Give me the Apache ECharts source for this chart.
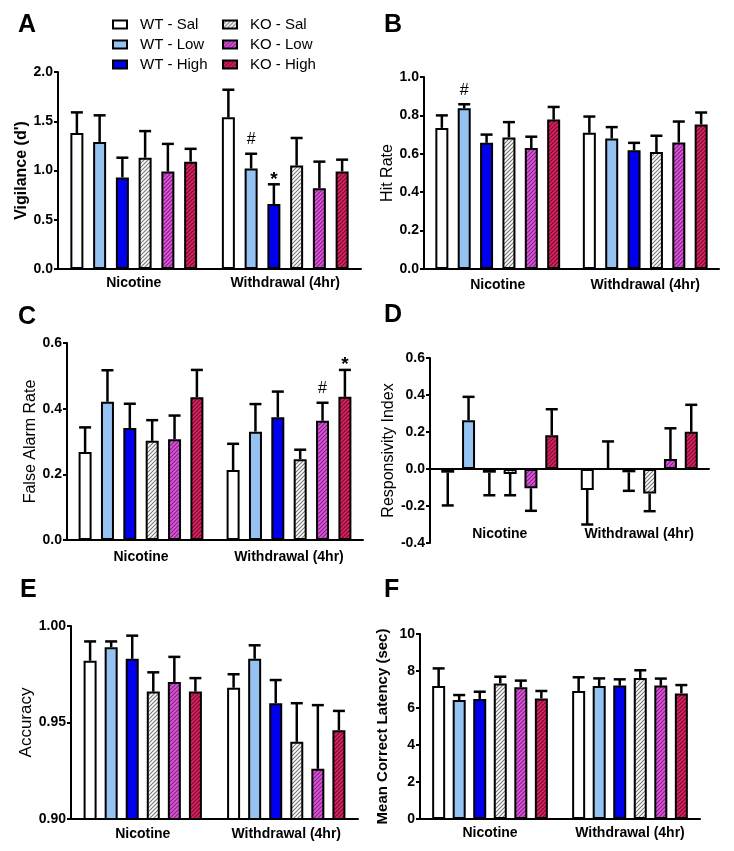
<!DOCTYPE html>
<html><head><meta charset="utf-8">
<script src="https://cdn.jsdelivr.net/npm/echarts@6/dist/echarts.min.js"></script>
<style>html,body{margin:0;padding:0;background:#fff}#c{width:734px;height:851px}</style>
</head><body><div id="c"></div>
<script>
// ---------------- DATA ----------------
const groups = ['Nicotine', 'Withdrawal (4hr)'];
const seriesNames = ['WT - Sal', 'WT - Low', 'WT - High', 'KO - Sal', 'KO - Low', 'KO - High'];

// A: Vigilance (d')
const vigilanceMean = [[1.38, 1.29, 0.93, 1.13, 0.99, 1.09], [1.54, 1.02, 0.66, 1.05, 0.82, 0.99]];
const vigilanceSem  = [[0.21, 0.27, 0.20, 0.27, 0.28, 0.13], [0.28, 0.15, 0.20, 0.28, 0.27, 0.12]];
const vigilanceMarks = [[1, 1, '#'], [1, 2, '*']];
const vigilanceTicks = [0.0, 0.5, 1.0, 1.5, 2.0];

// B: Hit Rate
const hitMean = [[0.735, 0.837, 0.657, 0.685, 0.630, 0.778], [0.709, 0.680, 0.618, 0.609, 0.659, 0.753]];
const hitSem  = [[0.065, 0.021, 0.043, 0.080, 0.059, 0.066], [0.085, 0.059, 0.039, 0.085, 0.109, 0.062]];
const hitMarks = [[0, 1, '#']];
const hitTicks = [0.0, 0.2, 0.4, 0.6, 0.8, 1.0];

// C: False Alarm Rate
const falseAlarmMean = [[0.268, 0.421, 0.341, 0.302, 0.307, 0.435], [0.213, 0.330, 0.374, 0.246, 0.363, 0.436]];
const falseAlarmSem  = [[0.075, 0.096, 0.074, 0.063, 0.072, 0.083], [0.080, 0.084, 0.078, 0.029, 0.055, 0.082]];
const falseAlarmMarks = [[1, 4, '#'], [1, 5, '*']];
const falseAlarmTicks = [0.0, 0.2, 0.4, 0.6];

// D: Responsivity Index
const responsivityMean = [[-0.020, 0.264, -0.020, -0.027, -0.104, 0.183], [-0.113, 0.000, -0.018, -0.133, 0.054, 0.201]];
const responsivitySem  = [[0.177, 0.126, 0.122, 0.115, 0.122, 0.140], [0.187, 0.149, 0.100, 0.095, 0.166, 0.146]];
const responsivityMarks = [];
const responsivityTicks = [-0.4, -0.2, 0.0, 0.2, 0.4, 0.6];

// E: Accuracy
const accuracyMean = [[0.982, 0.989, 0.983, 0.966, 0.971, 0.966], [0.968, 0.983, 0.960, 0.940, 0.926, 0.946]];
const accuracySem  = [[0.010, 0.003, 0.012, 0.010, 0.013, 0.007], [0.007, 0.007, 0.012, 0.020, 0.033, 0.010]];
const accuracyMarks = [];
const accuracyTicks = [0.90, 0.95, 1.00];

// F: Mean Correct Latency (sec)
const latencyMean = [[7.19, 6.43, 6.49, 7.33, 7.12, 6.52], [6.92, 7.19, 7.21, 7.62, 7.21, 6.79]];
const latencySem  = [[0.95, 0.27, 0.39, 0.36, 0.36, 0.40], [0.74, 0.41, 0.34, 0.42, 0.38, 0.45]];
const latencyMarks = [];
const latencyTicks = [0, 2, 4, 6, 8, 10];

// ---------------- STYLE / LAYOUT ----------------
const FONT = 'Liberation Sans, Arial, sans-serif';
function hatch(bg, fg) {
  const c = document.createElement('canvas');
  c.width = 4; c.height = 4;
  const g = c.getContext('2d');
  g.fillStyle = bg; g.fillRect(0, 0, 4, 4);
  g.strokeStyle = fg; g.lineWidth = 1.2;
  g.beginPath();
  g.moveTo(0, 4); g.lineTo(4, 0);
  g.moveTo(-1, 1); g.lineTo(1, -1);
  g.moveTo(3, 5); g.lineTo(5, 3);
  g.stroke();
  return { image: c, repeat: 'repeat' };
}
const fills = ['#ffffff', '#96c2f2', '#0000ee',
  hatch('#ffffff', '#7a7a7a'), hatch('#d85ad8', '#8e1c8e'), hatch('#d8265f', '#7c0a32')];

const BW = 13;
const panels = [
  { letter: 'A', lx: 18, ly: 13, name: "Vigilance (d')", nameSize: 16, nameBold: true, nameGap: 27,
    mean: vigilanceMean, sem: vigilanceSem, marks: vigilanceMarks, ticks: vigilanceTicks, dec: 1,
    left: 58, top: 72, width: 303, height: 197, gap: 0.75, lblMargin: 7 },
  { letter: 'B', lx: 384, ly: 13, name: 'Hit Rate', nameSize: 16, nameBold: false, nameGap: 27,
    mean: hitMean, sem: hitSem, marks: hitMarks, ticks: hitTicks, dec: 1,
    left: 424, top: 77, width: 295, height: 192, gap: 0.72, lblMargin: 9 },
  { letter: 'C', lx: 18, ly: 305, name: 'False Alarm Rate', nameSize: 16, nameBold: false, nameGap: 24,
    mean: falseAlarmMean, sem: falseAlarmSem, marks: falseAlarmMarks, ticks: falseAlarmTicks, dec: 1,
    left: 67, top: 343, width: 296, height: 197, gap: 0.72, lblMargin: 10 },
  { letter: 'D', lx: 384, ly: 303, name: 'Responsivity Index', nameSize: 16, nameBold: false, nameGap: 31,
    mean: responsivityMean, sem: responsivitySem, marks: responsivityMarks, ticks: responsivityTicks, dec: 1,
    left: 430, top: 358, width: 279, height: 185, gap: 0.6, lblMargin: 4, inside: true },
  { letter: 'E', lx: 20, ly: 578, name: 'Accuracy', nameSize: 17, nameBold: false, nameGap: 35,
    mean: accuracyMean, sem: accuracySem, marks: accuracyMarks, ticks: accuracyTicks, dec: 2,
    left: 71, top: 626, width: 287, height: 193, gap: 0.62, lblMargin: 8 },
  { letter: 'F', lx: 384, ly: 578, name: 'Mean Correct Latency (sec)', nameSize: 15, nameBold: true, nameGap: 30,
    mean: latencyMean, sem: latencySem, marks: latencyMarks, ticks: latencyTicks, dec: 0,
    left: 420, top: 634, width: 280, height: 185, gap: 0.58, lblMargin: 7 }
];

const grids = [], xAxes = [], yAxes = [], series = [], graphics = [];
panels.forEach((p, pi) => {
  grids.push({ left: p.left, top: p.top, width: p.width, height: p.height, containLabel: false });
  const xi = xAxes.length;
  xAxes.push({
    type: 'category', gridIndex: pi, data: groups,
    axisLine: { onZero: true, lineStyle: { color: '#000', width: 2 } },
    axisTick: { alignWithLabel: true, length: 4, lineStyle: { color: '#000', width: 1.5 } },
    axisLabel: { show: !p.inside, interval: 0, color: '#000', fontFamily: FONT, fontWeight: 'bold', fontSize: 14, margin: p.lblMargin },
    splitLine: { show: false }
  });
  if (p.inside) {
    xAxes.push({
      type: 'category', gridIndex: pi, data: groups, position: 'bottom', offset: -20,
      axisLine: { show: false, onZero: false }, axisTick: { show: false },
      axisLabel: { interval: 0, color: '#000', fontFamily: FONT, fontWeight: 'bold', fontSize: 14, margin: p.lblMargin }
    });
  }
  const step = p.ticks[1] - p.ticks[0];
  yAxes.push({
    type: 'value', gridIndex: pi,
    min: p.ticks[0], max: p.ticks[p.ticks.length - 1], interval: step,
    name: p.name, nameLocation: 'middle', nameGap: p.nameGap, nameRotate: 90,
    nameTextStyle: { color: '#000', fontFamily: FONT, fontSize: p.nameSize, fontWeight: p.nameBold ? 'bold' : 'normal' },
    axisLine: { show: true, lineStyle: { color: '#000', width: 2 } },
    axisTick: { show: true, length: 4, lineStyle: { color: '#000', width: 2 } },
    axisLabel: { color: '#000', fontFamily: FONT, fontWeight: 'bold', fontSize: 14, margin: 5,
      formatter: v => Number(v).toFixed(p.dec) },
    splitLine: { show: false }
  });
  seriesNames.forEach((nm, k) => {
    series.push({
      type: 'bar', name: nm, xAxisIndex: xi, yAxisIndex: pi,
      data: [p.mean[0][k], p.mean[1][k]],
      barWidth: BW, barGap: Math.round(p.gap * 100) + '%',
      itemStyle: { color: fills[k], borderColor: '#000', borderWidth: 2 },
      clip: true, silent: true, animation: false, z: 2
    });
  });
  const pitch = BW * (1 + p.gap);
  const errData = [];
  for (let g = 0; g < 2; g++) for (let k = 0; k < 6; k++) errData.push([g, p.mean[g][k], p.sem[g][k], k]);
  series.push({
    type: 'custom', xAxisIndex: xi, yAxisIndex: pi, data: errData, encode: { x: 0, y: 1 },
    silent: true, animation: false, z: 4, clip: false,
    renderItem: (params, api) => {
      const g = api.value(0), m = api.value(1), s = api.value(2), k = api.value(3);
      const dir = m < 0 ? -1 : 1;
      const p0 = api.coord([g, m]), p1 = api.coord([g, m + dir * s]);
      const x = p0[0] + (k - 2.5) * pitch;
      return { type: 'group', children: [
        { type: 'line', shape: { x1: x, y1: p0[1], x2: x, y2: p1[1] }, style: { stroke: '#000', lineWidth: 2.5 } },
        { type: 'line', shape: { x1: x - 6, y1: p1[1], x2: x + 6, y2: p1[1] }, style: { stroke: '#000', lineWidth: 2.5 } }
      ] };
    }
  });
  if (p.marks.length) {
    series.push({
      type: 'custom', xAxisIndex: xi, yAxisIndex: pi,
      data: p.marks.map(m => [m[0], p.mean[m[0]][m[1]] + p.sem[m[0]][m[1]], m[1]]), encode: { x: 0, y: 1 },
      silent: true, animation: false, z: 5, clip: false,
      renderItem: (params, api) => {
        const mk = p.marks[params.dataIndex];
        const pt = api.coord([api.value(0), api.value(1)]);
        const x = pt[0] + (api.value(2) - 2.5) * pitch;
        const star = mk[2] === '*';
        return { type: 'text', style: {
          text: mk[2], x: x, y: star ? pt[1] - 5 : pt[1] - 14,
          align: 'center', verticalAlign: 'middle', fill: '#000',
          fontFamily: FONT, fontSize: star ? 19 : 16, fontWeight: star ? 'bold' : 'normal'
        } };
      }
    });
  }
  graphics.push({ type: 'text', left: p.lx, top: p.ly,
    style: { text: p.letter, fill: '#000', font: 'bold 25px ' + FONT } });
});

const legendCommon = {
  orient: 'vertical', icon: 'rect', itemWidth: 14, itemHeight: 8, itemGap: 5,
  selectedMode: false,
  itemStyle: { borderColor: '#000', borderWidth: 2 },
  textStyle: { color: '#000', fontFamily: FONT, fontSize: 15, lineHeight: 15, padding: [0, 0, 0, 8] }
};

const chart = echarts.init(document.getElementById('c'), null, { renderer: 'canvas' });
chart.setOption({
  animation: false,
  backgroundColor: '#fff',
  grid: grids, xAxis: xAxes, yAxis: yAxes, series: series,
  legend: [
    Object.assign({}, legendCommon, { left: 107, top: 12, data: seriesNames.slice(0, 3) }),
    Object.assign({}, legendCommon, { left: 217, top: 12, data: seriesNames.slice(3) })
  ],
  graphic: graphics
});
</script>
</body></html>
